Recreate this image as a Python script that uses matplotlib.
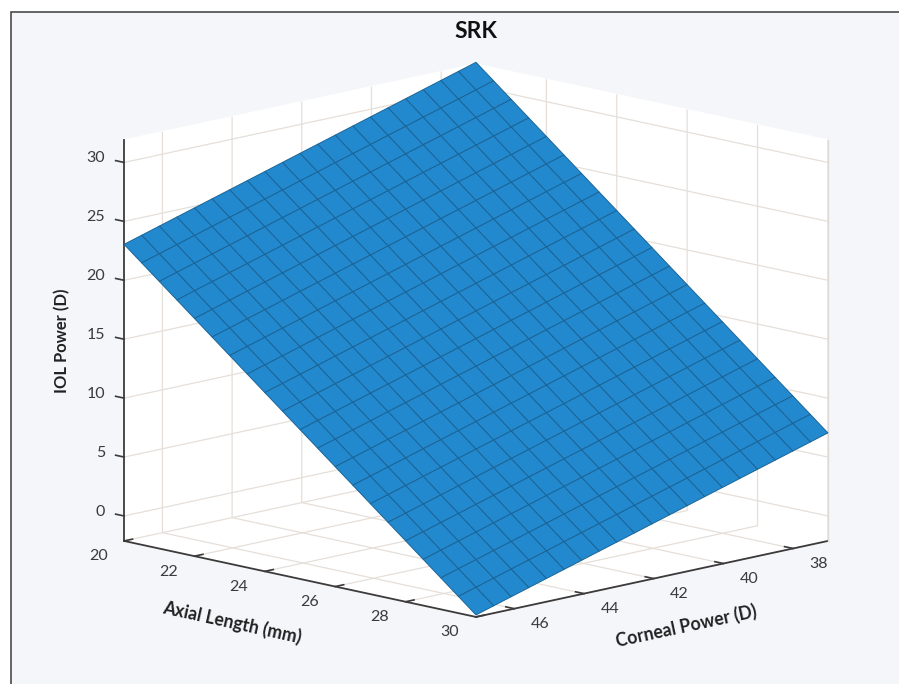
import matplotlib
matplotlib.use("Agg")
import numpy as np
import matplotlib.pyplot as plt
from matplotlib.patches import Rectangle

axial_length = [20.0, 20.5, 21.0, 21.5, 22.0, 22.5, 23.0, 23.5, 24.0, 24.5, 25.0,
                25.5, 26.0, 26.5, 27.0, 27.5, 28.0, 28.5, 29.0, 29.5, 30.0]
corneal_power = [37.0, 37.505, 38.01, 38.515, 39.02, 39.525, 40.03, 40.535, 41.04, 41.545, 42.05,
                 42.555, 43.06, 43.565, 44.07, 44.575, 45.08, 45.585, 46.09, 46.595, 47.1]
iol_power = [
    [32.05,31.60,31.15,30.70,30.25,29.80,29.35,28.90,28.45,28.00,27.55,27.10,26.65,26.20,25.75,25.30,24.85,24.40,23.95,23.50,23.05],
    [30.80,30.35,29.90,29.45,29.00,28.55,28.10,27.65,27.20,26.75,26.30,25.85,25.40,24.95,24.50,24.05,23.60,23.15,22.70,22.25,21.80],
    [29.55,29.10,28.65,28.20,27.75,27.30,26.85,26.40,25.95,25.50,25.05,24.60,24.15,23.70,23.25,22.80,22.35,21.90,21.45,21.00,20.55],
    [28.30,27.85,27.40,26.95,26.50,26.05,25.60,25.15,24.70,24.25,23.80,23.35,22.90,22.45,22.00,21.55,21.10,20.65,20.20,19.75,19.30],
    [27.05,26.60,26.15,25.70,25.25,24.80,24.35,23.90,23.45,23.00,22.55,22.10,21.65,21.20,20.75,20.30,19.85,19.40,18.95,18.50,18.05],
    [25.80,25.35,24.90,24.45,24.00,23.55,23.10,22.65,22.20,21.75,21.30,20.85,20.40,19.95,19.50,19.05,18.60,18.15,17.70,17.25,16.80],
    [24.55,24.10,23.65,23.20,22.75,22.30,21.85,21.40,20.95,20.50,20.05,19.60,19.15,18.70,18.25,17.80,17.35,16.90,16.45,16.00,15.55],
    [23.30,22.85,22.40,21.95,21.50,21.05,20.60,20.15,19.70,19.25,18.80,18.35,17.90,17.45,17.00,16.55,16.10,15.65,15.20,14.75,14.30],
    [22.05,21.60,21.15,20.70,20.25,19.80,19.35,18.90,18.45,18.00,17.55,17.10,16.65,16.20,15.75,15.30,14.85,14.40,13.95,13.50,13.05],
    [20.80,20.35,19.90,19.45,19.00,18.55,18.10,17.65,17.20,16.75,16.30,15.85,15.40,14.95,14.50,14.05,13.60,13.15,12.70,12.25,11.80],
    [19.55,19.10,18.65,18.20,17.75,17.30,16.85,16.40,15.95,15.50,15.05,14.60,14.15,13.70,13.25,12.80,12.35,11.90,11.45,11.00,10.55],
    [18.30,17.85,17.40,16.95,16.50,16.05,15.60,15.15,14.70,14.25,13.80,13.35,12.90,12.45,12.00,11.55,11.10,10.65,10.20,9.75,9.30],
    [17.05,16.60,16.15,15.70,15.25,14.80,14.35,13.90,13.45,13.00,12.55,12.10,11.65,11.20,10.75,10.30,9.85,9.40,8.95,8.50,8.05],
    [15.80,15.35,14.90,14.45,14.00,13.55,13.10,12.65,12.20,11.75,11.30,10.85,10.40,9.95,9.50,9.05,8.60,8.15,7.70,7.25,6.80],
    [14.55,14.10,13.65,13.20,12.75,12.30,11.85,11.40,10.95,10.50,10.05,9.60,9.15,8.70,8.25,7.80,7.35,6.90,6.45,6.00,5.55],
    [13.30,12.85,12.40,11.95,11.50,11.05,10.60,10.15,9.70,9.25,8.80,8.35,7.90,7.45,7.00,6.55,6.10,5.65,5.20,4.75,4.30],
    [12.05,11.60,11.15,10.70,10.25,9.80,9.35,8.90,8.45,8.00,7.55,7.10,6.65,6.20,5.75,5.30,4.85,4.40,3.95,3.50,3.05],
    [10.80,10.35,9.90,9.45,9.00,8.55,8.10,7.65,7.20,6.75,6.30,5.85,5.40,4.95,4.50,4.05,3.60,3.15,2.70,2.25,1.80],
    [9.55,9.10,8.65,8.20,7.75,7.30,6.85,6.40,5.95,5.50,5.05,4.60,4.15,3.70,3.25,2.80,2.35,1.90,1.45,1.00,0.55],
    [8.30,7.85,7.40,6.95,6.50,6.05,5.60,5.15,4.70,4.25,3.80,3.35,2.90,2.45,2.00,1.55,1.10,0.65,0.20,-0.25,-0.70],
    [7.05,6.60,6.15,5.70,5.25,4.80,4.35,3.90,3.45,3.00,2.55,2.10,1.65,1.20,0.75,0.30,-0.15,-0.60,-1.05,-1.50,-1.95],
]
al_ticks = [20, 22, 24, 26, 28, 30]
k_ticks = [38, 40, 42, 44, 46]
z_ticks = [0, 5, 10, 15, 20, 25, 30]

FONT = ["Lato", "DejaVu Sans"]
INK = "#3c3a3a"
W, H = 899, 684
fig = plt.figure(figsize=(W / 100, H / 100), dpi=100, facecolor="white")
fig.add_artist(Rectangle((11 / W, -0.02), 1.02 - 11 / W, 1.02 - 12 / H, transform=fig.transFigure,
                         facecolor="#f4f6fa", edgecolor="#4a4a4a", lw=1.2, zorder=-1))

side = 791.0
ax = fig.add_axes([69.8 / W, -62.7 / H, side / W, side / H], projection="3d", proj_type="ortho")
ax.patch.set_visible(False)
ax.view_init(elev=12.47, azim=45)
ax.set_box_aspect((1, 1, 0.825), zoom=1.0)

ax.set_xlim(37, 47.1)
ax.set_ylim(20, 30)
ax.set_zlim(-2.12, 31.9)

ax.plot([37, 37], [30, 30], [-2.12, 31.9], color="#dedad6", lw=1.0, zorder=0)

X, Y = np.meshgrid(corneal_power, axial_length)
Z = np.array(iol_power)
ax.plot_surface(X, Y, Z, rstride=1, cstride=1, color="#2389cf", shade=False,
                edgecolor="#1a6496", linewidth=0.7, antialiased=True, zorder=5)

ax.set_xlim(37, 47.1)
ax.set_ylim(20, 30)
ax.set_zlim(-2.12, 31.9)
ax.set_xticks(k_ticks)
ax.set_yticks(al_ticks)
ax.set_zticks(z_ticks)

ax.zaxis._get_tickdir = lambda position: 1

for axis in (ax.xaxis, ax.yaxis, ax.zaxis):
    axis.set_pane_color((1, 1, 1, 1))
    axis.pane.set_edgecolor("white")
    axis.line.set_color(INK)
    axis.line.set_linewidth(1.3)
    axis._axinfo["grid"].update(color="#e6dfd9", linewidth=0.9)
    axis._axinfo["tick"].update(inward_factor=0.0, outward_factor=0.3, linewidth={True: 1.2, False: 0.8}, color=INK)
ax.tick_params(axis="both", labelsize=11.5, colors=INK, pad=0)
ax.tick_params(axis="x", pad=6)
ax.tick_params(axis="y", pad=6)
for axis, ha, va in ((ax.xaxis, "left", "bottom"), (ax.yaxis, "right", "bottom"), (ax.zaxis, "right", "baseline")):
    for lab in axis.get_ticklabels():
        lab.set_fontfamily(FONT)
        lab.set_ha(ha)
        lab.set_va(va)

ax.set_xlabel("Corneal Power (D)", fontfamily=FONT, fontweight="bold", fontsize=12.7, color="#222222", labelpad=8)
ax.set_zlabel("IOL Power (D)", fontfamily=FONT, fontweight="bold", fontsize=11.9, color="#222222", labelpad=5)
fig.text(232 / W, 1 - 622 / H, "Axial Length (mm)", rotation=-12.4, rotation_mode="anchor",
         ha="center", va="center", fontfamily=FONT, fontweight="bold", fontsize=12.7, color="#222222")
fig.suptitle("SRK", x=476 / W, y=1 - 32 / H, va="center", ha="center",
             fontfamily=FONT, fontweight="bold", fontsize=16.4, color="#111111")

fig.savefig("out.png", dpi=100)
